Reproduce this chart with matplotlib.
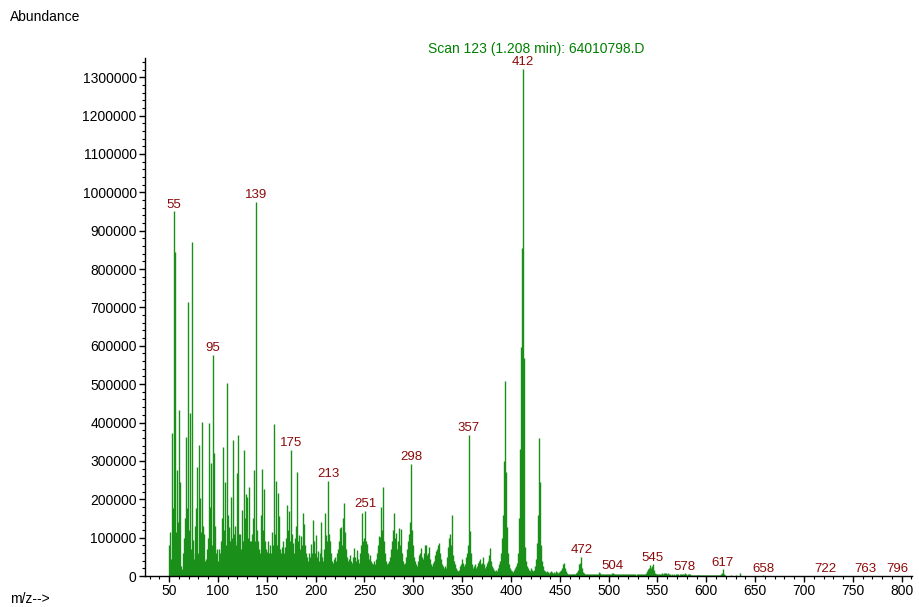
import numpy as np
import matplotlib
matplotlib.use("Agg")
import matplotlib.pyplot as plt
from matplotlib.ticker import MultipleLocator, FixedLocator

plt.rcParams['font.family'] = ['Liberation Sans', 'DejaVu Sans']

# ---- data: m/z 50..619 (one value per integer m/z) ----
mz_start = 50
intensity = [
    81000, 115000, 45000, 372000, 177000, 950000, 845000, 115000, 276000, 140000,   # 50
    432000, 245000, 25000, 18000, 60000, 100000, 150000, 363000, 177000, 715000,    # 60
    120000, 425000, 70000, 871000, 95000, 45000, 60000, 130000, 177000, 285000,     # 70
    60000, 341000, 203000, 115000, 402000, 130000, 110000, 40000, 45000, 70000,     # 80
    100000, 398000, 180000, 294000, 80000, 576000, 320000, 130000, 60000, 70000,    # 90
    40000, 70000, 60000, 90000, 150000, 337000, 120000, 246000, 80000, 502000,      # 100
    160000, 128000, 90000, 207000, 100000, 354000, 110000, 130000, 80000, 268000,   # 110
    90000, 367000, 110000, 110000, 70000, 172000, 90000, 328000, 150000, 214000,    # 120
    207000, 100000, 233000, 90000, 90000, 110000, 150000, 276000, 90000, 975000,    # 130
    120000, 90000, 70000, 60000, 159000, 280000, 120000, 228000, 90000, 70000,      # 140
    63000, 90000, 60000, 80000, 60000, 115000, 80000, 396000, 110000, 248000,       # 150
    80000, 217000, 70000, 156000, 70000, 60000, 76000, 90000, 60000, 76000,         # 160
    100000, 185000, 120000, 170000, 90000, 328000, 110000, 87000, 60000, 100000,    # 170
    130000, 272000, 90000, 108000, 70000, 105000, 80000, 163000, 135000, 80000,     # 180
    60000, 50000, 40000, 60000, 50000, 83000, 60000, 146000, 90000, 60000,          # 190
    108000, 50000, 65000, 40000, 60000, 141000, 70000, 50000, 40000, 70000,         # 200
    163000, 108000, 90000, 248000, 110000, 91000, 60000, 40000, 35000, 45000,       # 210
    50000, 40000, 60000, 70000, 90000, 124000, 128000, 80000, 150000, 189000,       # 220
    115000, 70000, 50000, 40000, 45000, 55000, 40000, 35000, 50000, 72000,          # 230
    50000, 40000, 68000, 45000, 35000, 60000, 80000, 163000, 90000, 83000,          # 240
    100000, 170000, 90000, 83000, 60000, 45000, 55000, 40000, 35000, 30000,         # 250
    40000, 30000, 45000, 60000, 80000, 104000, 102000, 179000, 120000, 233000,      # 260
    90000, 60000, 40000, 30000, 35000, 40000, 50000, 70000, 90000, 120000,          # 270
    163000, 100000, 112000, 70000, 90000, 124000, 80000, 122000, 60000, 40000,      # 280
    30000, 25000, 35000, 50000, 70000, 90000, 110000, 141000, 292000, 120000,       # 290
    80000, 50000, 40000, 30000, 25000, 40000, 55000, 60000, 73000, 50000,           # 300
    45000, 60000, 82000, 80000, 55000, 60000, 75000, 45000, 30000, 25000,           # 310
    35000, 40000, 55000, 65000, 70000, 80000, 87000, 60000, 45000, 30000,           # 320
    25000, 20000, 25000, 20000, 30000, 50000, 75000, 100000, 109000, 80000,         # 330
    159000, 56000, 40000, 30000, 20000, 15000, 12000, 15000, 25000, 30000,          # 340
    45000, 35000, 25000, 30000, 50000, 60000, 80000, 367000, 117000, 60000,         # 350
    30000, 20000, 25000, 30000, 20000, 25000, 35000, 40000, 45000, 30000,           # 360
    35000, 50000, 30000, 20000, 25000, 35000, 40000, 45000, 55000, 72000,           # 370
    40000, 25000, 20000, 15000, 12000, 15000, 12000, 20000, 30000, 40000,           # 380
    60000, 100000, 159000, 300000, 508000, 272000, 128000, 60000, 30000, 20000,     # 390
    15000, 12000, 10000, 15000, 20000, 25000, 35000, 60000, 150000, 330000,         # 400
    597000, 854000, 1321000, 567000, 76000, 40000, 25000, 20000, 15000, 12000,      # 410
    15000, 20000, 15000, 12000, 15000, 25000, 45000, 87000, 159000, 359000,         # 420
    246000, 80000, 40000, 25000, 15000, 12000, 10000, 12000, 10000, 8000,           # 430
    10000, 12000, 10000, 8000, 10000, 8000, 12000, 10000, 8000, 10000,              # 440
    12000, 15000, 20000, 30000, 34000, 22000, 12000, 8000, 6000, 5000,              # 450
    6000, 5000, 6000, 5000, 6000, 5000, 6000, 8000, 10000, 15000,                   # 460
    30000, 35000, 50000, 20000, 10000, 8000, 6000, 5000, 4000, 6000,                # 470
    5000, 4000, 6000, 5000, 4000, 5000, 4000, 6000, 5000, 6000,                     # 480
    10000, 8000, 6000, 5000, 6000, 5000, 4000, 6000, 5000, 4000,                    # 490
    5000, 6000, 5000, 7000, 8000, 5000, 4000, 5000, 4000, 6000,                     # 500
    5000, 4000, 5000, 6000, 4000, 5000, 4000, 6000, 5000, 4000,                     # 510
    5000, 4000, 5000, 6000, 5000, 4000, 5000, 4000, 3000, 4000,                     # 520
    5000, 4000, 5000, 6000, 5000, 4000, 5000, 6000, 8000, 12000,                    # 530
    18000, 22000, 29000, 20000, 25000, 30000, 15000, 8000, 6000, 5000,              # 540
    4000, 5000, 6000, 5000, 6000, 7000, 6000, 8000, 7000, 8000,                     # 550
    6000, 7000, 5000, 4000, 3000, 4000, 3000, 4000, 3000, 4000,                     # 560
    5000, 4000, 3000, 4000, 5000, 4000, 5000, 6000, 7000, 4000,                     # 570
    3000, 4000, 5000, 4000, 3000, 2000, 3000, 2000, 3000, 2000,                     # 580
    3000, 2000, 3000, 2000, 3000, 2000, 2000, 3000, 2000, 3000,                     # 590
    2000, 2000, 3000, 2000, 2000, 3000, 2000, 2000, 1500, 1500,                     # 600
    2000, 1500, 1500, 2000, 3000, 4000, 8000, 17000, 5000, 2000,                    # 610
]
# sparse high-mass lines
mz_high = [625, 630, 634, 640, 645, 658, 672, 700, 722, 750, 763, 796]
int_high = [1500, 1500, 7000, 1000, 1000, 1500, 800, 800, 1000, 800, 1000, 1000]

# labelled peaks
label_mz = [55, 95, 139, 175, 213, 251, 298, 357, 412, 472, 504, 545, 578, 617, 658, 722, 763, 796]

title_text = "Scan 123 (1.208 min): 64010798.D"

# ---- build ----
mz = list(range(mz_start, mz_start + len(intensity))) + mz_high
inten = intensity + int_high
lookup = dict(zip(mz, inten))

W, H = 919, 607
fig = plt.figure(figsize=(W / 100, H / 100), dpi=100)
ax = fig.add_axes([145 / W, 1 - 576 / H, (912 - 145) / W, (576 - 58) / H])

ax.vlines(mz, 0, inten, color='#1a8f1a', linewidth=1.0)

ax.set_xlim(25.3, 810.6)
ax.set_ylim(0, 1350000)

for s in ['top', 'right']:
    ax.spines[s].set_visible(False)
for s in ['left', 'bottom']:
    ax.spines[s].set_linewidth(1.0)
    ax.spines[s].set_color('black')

ax.xaxis.set_major_locator(FixedLocator(np.arange(50, 801, 50)))
ax.xaxis.set_minor_locator(MultipleLocator(10))
ax.yaxis.set_major_locator(FixedLocator(np.arange(0, 1300001, 100000)))
ax.yaxis.set_minor_locator(MultipleLocator(20000))
ax.set_yticklabels([str(v) for v in range(0, 1300001, 100000)])
ax.set_xticklabels([str(v) for v in range(50, 801, 50)])
ax.tick_params(which='major', direction='out', length=4, width=1, labelsize=10, pad=2)
ax.tick_params(which='minor', direction='out', length=2.5, width=0.8)

for m in label_mz:
    ax.annotate(str(m), (m, lookup.get(m, 0)), xytext=(0, 0.5), textcoords='offset points',
                ha='center', va='bottom', fontsize=9.5, color='#8b0a0a')

fig.text(536 / W, 1 - 49 / H, title_text, ha='center', va='center', fontsize=10, color='#008000')
fig.text(10 / W, 1 - 17 / H, "Abundance", ha='left', va='center', fontsize=10, color='black')
fig.text(10 / W, 1 - 599 / H, "m/z-->", ha='left', va='center', fontsize=10, color='black')

fig.savefig("out.png", dpi=100)
